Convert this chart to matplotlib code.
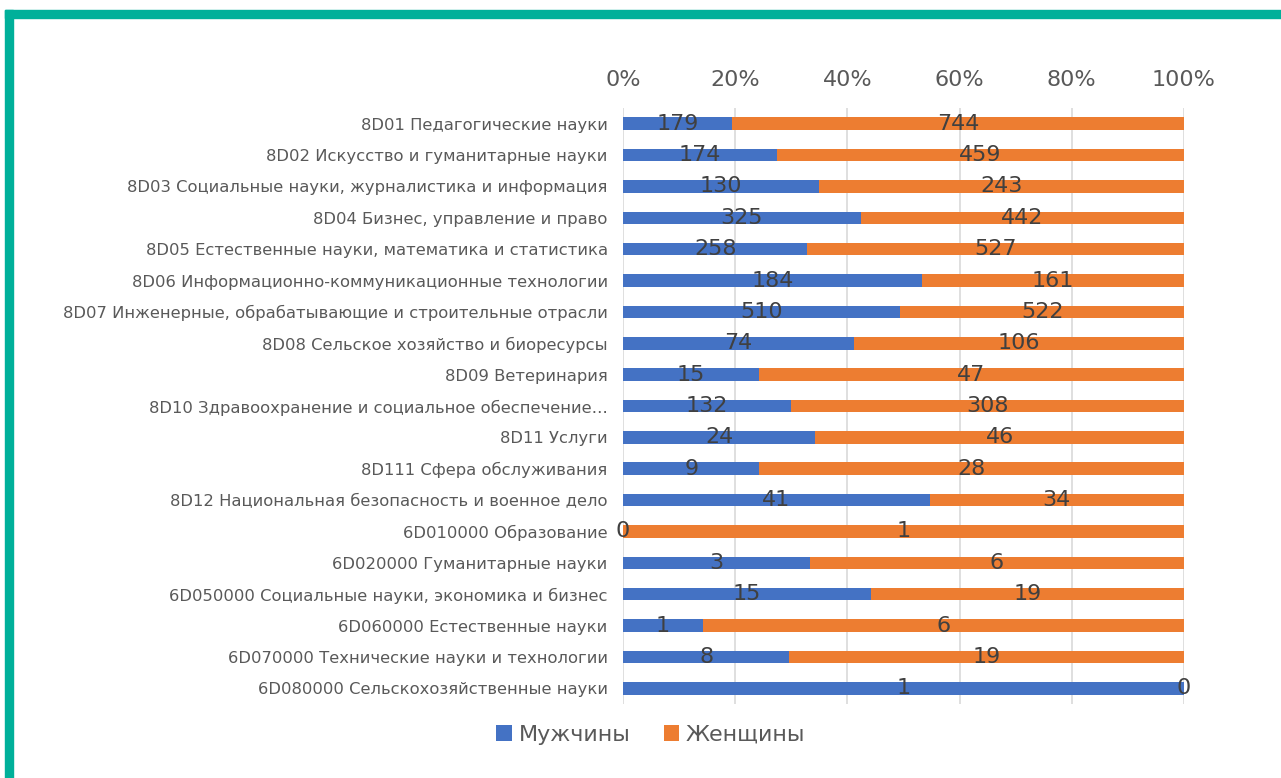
import matplotlib.pyplot as plt
from matplotlib.patches import Rectangle

categories = [
    '8D01 Педагогические науки',
    '8D02 Искусство и гуманитарные науки',
    '8D03 Социальные науки, журналистика и информация',
    '8D04 Бизнес, управление и право',
    '8D05 Естественные науки, математика и статистика',
    '8D06 Информационно-коммуникационные технологии',
    '8D07 Инженерные, обрабатывающие и строительные отрасли',
    '8D08 Сельское хозяйство и биоресурсы',
    '8D09 Ветеринария',
    '8D10 Здравоохранение и социальное обеспечение…',
    '8D11 Услуги',
    '8D111 Сфера обслуживания',
    '8D12 Национальная безопасность и военное дело',
    '6D010000 Образование',
    '6D020000 Гуманитарные науки',
    '6D050000 Социальные науки, экономика и бизнес',
    '6D060000 Естественные науки',
    '6D070000 Технические науки и технологии',
    '6D080000 Сельскохозяйственные науки',
]
men = [179, 174, 130, 325, 258, 184, 510, 74, 15, 132, 24, 9, 41, 0, 3, 15, 1, 8, 1]
women = [744, 459, 243, 442, 527, 161, 522, 106, 47, 308, 46, 28, 34, 1, 6, 19, 6, 19, 0]
series_names = ['Мужчины', 'Женщины']

BLUE = '#4472C4'
ORANGE = '#ED7D31'
TEXT = '#595959'
TEAL = '#00B09A'

plt.rcParams['font.family'] = ['DejaVu Sans']

fig = plt.figure(figsize=(12.81, 7.78), dpi=100)

# teal frame on top and left
fig.patches.append(Rectangle((5 / 1281, 0), 8 / 1281, 1 - 10 / 778,
                             transform=fig.transFigure, color=TEAL, zorder=0))
fig.patches.append(Rectangle((5 / 1281, 1 - 18 / 778), 1, 8 / 778,
                             transform=fig.transFigure, color=TEAL, zorder=0))

ax = fig.add_axes([623 / 1281, 1 - 704 / 778, 561 / 1281, 596 / 778])

totals = [m + w for m, w in zip(men, women)]
men_pct = [m / t * 100 for m, t in zip(men, totals)]
women_pct = [w / t * 100 for w, t in zip(women, totals)]
y = list(range(len(categories)))

b1 = ax.barh(y, men_pct, height=0.4, color=BLUE, label=series_names[0], zorder=2)
b2 = ax.barh(y, women_pct, left=men_pct, height=0.4, color=ORANGE,
             label=series_names[1], zorder=2)
ax.bar_label(b1, labels=[str(v) for v in men], label_type='center',
             fontsize=16, color='#404040', zorder=3)
ax.bar_label(b2, labels=[str(v) for v in women], label_type='center',
             fontsize=16, color='#404040', zorder=3)

ax.set_xlim(0, 100)
ax.set_ylim(len(categories) - 0.5, -0.5)
ax.set_xticks([0, 20, 40, 60, 80, 100])
ax.set_xticklabels([f'{v}%' for v in [0, 20, 40, 60, 80, 100]])
ax.xaxis.tick_top()
ax.tick_params(axis='x', length=0, labelsize=16, labelcolor=TEXT, pad=13)
ax.set_yticks(y)
ax.set_yticklabels(categories)
ax.tick_params(axis='y', length=0, labelsize=11.8, labelcolor=TEXT, pad=11)
ax.grid(axis='x', color='#D9D9D9', linewidth=1.2, zorder=0)
for s in ax.spines.values():
    s.set_visible(False)

fig.legend(loc='center', bbox_to_anchor=(651 / 1281, 1 - 735 / 778), ncol=2,
           frameon=False, fontsize=16, labelcolor=TEXT, handlelength=0.7,
           handleheight=0.7, handletextpad=0.3, columnspacing=1.5)

fig.savefig('out.png', dpi=100, facecolor='white')
